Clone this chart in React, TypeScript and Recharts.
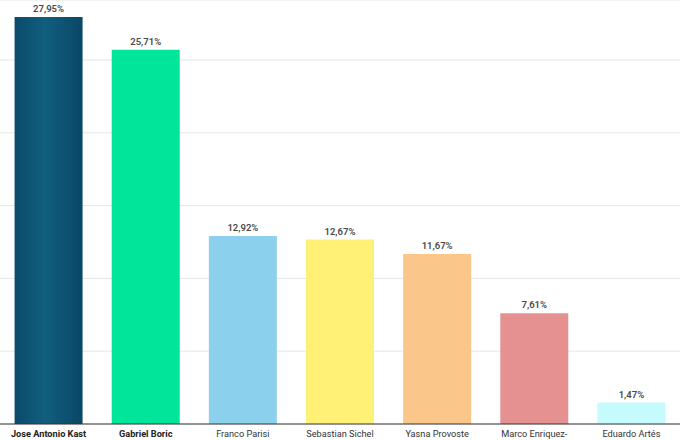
import React from 'react';
import { BarChart, Bar, XAxis, YAxis, CartesianGrid, LabelList, Cell } from 'recharts';

const candidates = [
  'Jose Antonio Kast',
  'Gabriel Boric',
  'Franco Parisi',
  'Sebastian Sichel',
  'Yasna Provoste',
  'Marco Enriquez-',
  'Eduardo Artés',
];
const votes = [27.95, 25.71, 12.92, 12.67, 11.67, 7.61, 1.47];
const barColors = ['url(#kastGrad)', '#00e599', '#8bd1ed', '#fef175', '#fbc68a', '#e69191', '#c6fbfd'];
const boldNames = ['Jose Antonio Kast', 'Gabriel Boric'];
const yTicks = [0, 5, 10, 15, 20, 25];

const data = candidates.map((name, i) => ({ name, value: votes[i] }));

const fmt = (v: any) => `${Number(v).toFixed(2).replace('.', ',')}%`;

const NameTick = ({ x, y, payload }: any) => {
  const bold = boldNames.includes(payload.value);
  return (
    <text
      x={x}
      y={y - 1.5}
      dy="0.71em"
      textAnchor="middle"
      fontSize={9.2}
      fill={bold ? '#222' : '#333'}
      fontWeight={bold ? 700 : 400}
      fontFamily="Roboto, sans-serif"
    >
      {payload.value}
    </text>
  );
};

export default function App() {
  return (
    <div style={{ position: 'absolute', left: 0, top: 0, background: '#fff' }}>
      <BarChart
        width={680}
        height={440}
        data={data}
        margin={{ top: 0, right: 0, left: 0, bottom: 0 }}
        barCategoryGap="15%"
      >
        <defs>
          <linearGradient id="kastGrad" x1="0" y1="0" x2="1" y2="0">
            <stop offset="0%" stopColor="#0b4b6a" />
            <stop offset="45%" stopColor="#115e7e" />
            <stop offset="100%" stopColor="#0a4766" />
          </linearGradient>
        </defs>
        <CartesianGrid vertical={false} stroke="#e6e6e6" />
        <XAxis
          dataKey="name"
          height={16}
          tickLine={false}
          axisLine={{ stroke: '#333', strokeWidth: 1 }}
          tick={<NameTick />}
          interval={0}
        />
        <YAxis hide domain={[0, 29.12]} ticks={yTicks} />
        <Bar dataKey="value" isAnimationActive={false}>
          {data.map((d, i) => (
            <Cell key={d.name} fill={barColors[i]} />
          ))}
          <LabelList
            dataKey="value"
            position="top"
            offset={5}
            formatter={fmt}
            fontSize={9.5}
            fontWeight={600}
            fill="#4a4a4a"
            fontFamily="Roboto, sans-serif"
          />
        </Bar>
      </BarChart>
    </div>
  );
}
